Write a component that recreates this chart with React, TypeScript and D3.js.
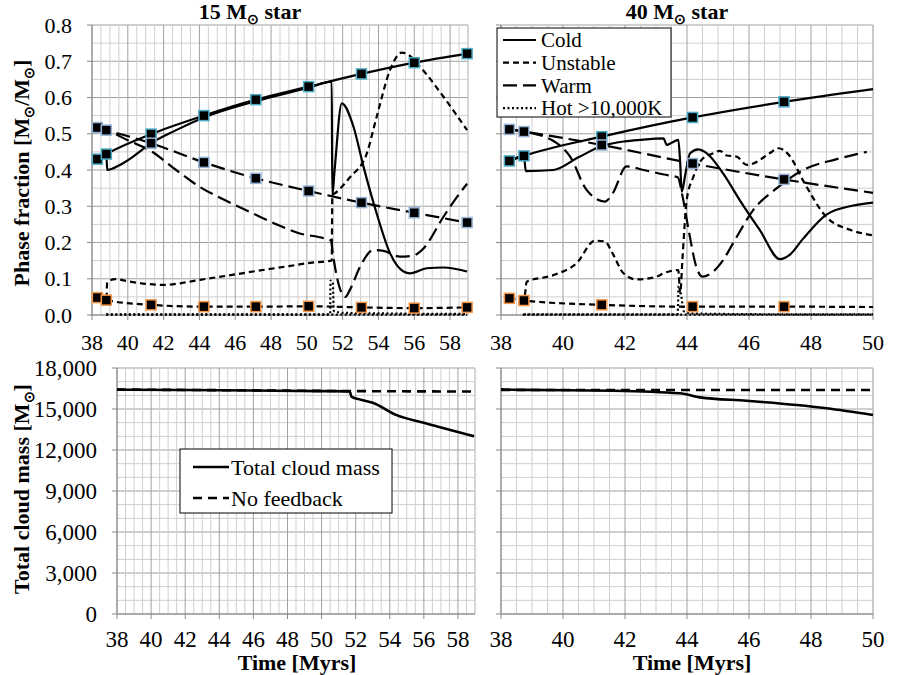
import React, { useEffect, useRef } from 'react';
import * as d3 from 'd3';

type Pt = [number, number];

// ---- axis ticks ----
const phaseTicks = [0, 0.1, 0.2, 0.3, 0.4, 0.5, 0.6, 0.7, 0.8];
const massTicks = [0, 3000, 6000, 9000, 12000, 15000, 18000];
const timeTicks15 = [38, 40, 42, 44, 46, 48, 50, 52, 54, 56, 58];
const timeTicks40 = [38, 40, 42, 44, 46, 48, 50];

// ---- 15 Msun, no feedback (marker series) ----
const markerTimes15 = [38.3, 38.8, 41.3, 44.25, 47.15, 50.1, 53.05, 56.0, 58.95];
const cold15NF = [0.43, 0.444, 0.499, 0.55, 0.594, 0.63, 0.665, 0.696, 0.721];
const warm15NF = [0.517, 0.51, 0.474, 0.421, 0.377, 0.342, 0.31, 0.282, 0.255];
const unstable15NF = [0.048, 0.041, 0.028, 0.023, 0.023, 0.024, 0.021, 0.019, 0.021];
const hot15NF: Pt[] = [[38.8, 0.001], [45, 0.001], [52, 0.001], [58.95, 0.001]];

// ---- 15 Msun, with feedback ----
const cold15FB: Pt[] = [
  [38.3, 0.43], [38.8, 0.444], [38.85, 0.4], [39.56, 0.414], [40.3, 0.437], [41.3, 0.474],
  [42.7, 0.51], [44.25, 0.545], [47.15, 0.59], [50.1, 0.627], [51.39, 0.644], [51.42, 0.33],
  [51.55, 0.4], [51.95, 0.584], [52.6, 0.52], [53.16, 0.41], [53.9, 0.28], [54.65, 0.17],
  [55.4, 0.12], [55.77, 0.115], [56.7, 0.129], [57.63, 0.131], [58.95, 0.12],
];
const warm15FB: Pt[] = [
  [38.3, 0.517], [38.8, 0.51], [40.0, 0.482], [41.3, 0.452], [42.7, 0.4], [44.0, 0.354],
  [45.5, 0.315], [47.0, 0.28], [48.3, 0.25], [49.6, 0.225], [50.92, 0.212], [51.35, 0.205],
  [51.45, 0.17], [51.7, 0.1], [51.95, 0.06], [52.15, 0.05], [52.41, 0.07], [52.97, 0.133],
  [53.71, 0.179], [54.27, 0.177], [55.2, 0.161], [55.95, 0.164], [56.5, 0.183], [57.63, 0.271],
  [58.74, 0.349], [58.95, 0.362],
];
const unstable15FB: Pt[] = [
  [38.3, 0.048], [38.8, 0.043], [38.85, 0.09], [39.3, 0.099], [40.0, 0.093], [41.0, 0.086],
  [42.0, 0.083], [43.0, 0.088], [44.03, 0.097], [45.5, 0.108], [47.0, 0.12], [49.0, 0.135],
  [50.18, 0.144], [51.39, 0.15], [51.42, 0.33], [51.58, 0.336], [52.41, 0.38], [53.35, 0.446],
  [53.9, 0.547], [54.65, 0.676], [55.3, 0.724], [55.6, 0.72], [56.32, 0.685], [57.63, 0.602],
  [58.95, 0.51],
];
const hot15FB: Pt[] = [
  [38.8, 0.002], [45.0, 0.002], [51.3, 0.002], [51.32, 0.095], [51.45, 0.09], [51.5, 0.012],
  [52.0, 0.006], [55.0, 0.004], [58.95, 0.003],
];

// ---- 40 Msun, no feedback (marker series; lines run on to 50) ----
const markerTimes40 = [38.27, 38.74, 41.25, 44.18, 47.13];
const lineTimes40 = [38.27, 38.74, 41.25, 44.18, 47.13, 50.0];
const cold40NF = [0.425, 0.439, 0.492, 0.545, 0.588, 0.623];
const warm40NF = [0.512, 0.506, 0.469, 0.418, 0.374, 0.337];
const unstable40NF = [0.046, 0.04, 0.028, 0.023, 0.023, 0.022];
const hot40NF: Pt[] = [[38.7, 0.001], [44, 0.001], [50, 0.001]];

// ---- 40 Msun, with feedback ----
const cold40FB: Pt[] = [
  [38.27, 0.425], [38.74, 0.439], [38.8, 0.397], [39.69, 0.4], [40.5, 0.435], [41.25, 0.466],
  [42.0, 0.479], [42.48, 0.483], [43.24, 0.487], [43.35, 0.469], [43.5, 0.475], [43.72, 0.483],
  [43.78, 0.42], [43.83, 0.34], [43.95, 0.39], [44.1, 0.446], [44.36, 0.457], [44.64, 0.446],
  [45.17, 0.39], [45.7, 0.317], [46.35, 0.234], [47.0, 0.154], [47.3, 0.165], [47.74, 0.21],
  [48.5, 0.277], [49.36, 0.302], [50.0, 0.31],
];
const warm40FB: Pt[] = [
  [38.27, 0.512], [38.74, 0.506], [39.8, 0.474], [40.23, 0.437], [40.76, 0.345], [41.35, 0.313],
  [41.6, 0.335], [42.05, 0.41], [42.6, 0.4], [43.4, 0.385], [43.7, 0.38], [43.85, 0.33],
  [44.07, 0.226], [44.3, 0.133], [44.5, 0.106], [44.85, 0.12], [45.17, 0.152], [45.5, 0.2],
  [46.14, 0.29], [46.9, 0.35], [47.75, 0.4], [48.83, 0.43], [49.8, 0.45],
];
const unstable40FB: Pt[] = [
  [38.27, 0.046], [38.74, 0.04], [38.83, 0.092], [39.69, 0.11], [40.44, 0.143], [41.03, 0.205],
  [41.35, 0.203], [41.6, 0.17], [41.95, 0.115], [42.38, 0.098], [43.0, 0.105], [43.24, 0.115],
  [43.72, 0.124], [43.78, 0.06], [43.85, 0.15], [43.99, 0.317], [44.2, 0.38], [44.47, 0.428],
  [44.85, 0.446], [45.06, 0.453], [45.28, 0.44], [45.6, 0.437], [45.93, 0.414], [46.14, 0.418],
  [46.68, 0.447], [46.95, 0.46], [47.3, 0.44], [47.75, 0.37], [48.5, 0.27], [49.26, 0.235],
  [50.0, 0.22],
];
const hot40FB: Pt[] = [
  [38.74, 0.002], [41.0, 0.002], [43.7, 0.002], [43.73, 0.08], [43.8, 0.06], [43.9, 0.01],
  [44.2, 0.004], [47.0, 0.002], [50.0, 0.002],
];

// ---- total cloud mass ----
const mass15: Pt[] = [
  [38.0, 16420], [38.6, 16410], [42.0, 16390], [46.0, 16350], [50.0, 16310], [51.65, 16290],
  [51.75, 15900], [52.3, 15680], [53.0, 15450], [54.4, 14550], [56.1, 13950], [58.95, 13000],
];
const noFeedback15: Pt[] = [[38.0, 16420], [45.0, 16370], [51.7, 16310], [58.95, 16280]];
const mass40: Pt[] = [
  [38.0, 16450], [38.7, 16400], [41.62, 16340], [43.77, 16150], [44.42, 15850], [45.93, 15600],
  [47.54, 15290], [48.5, 15050], [50.0, 14560],
];
const noFeedback40: Pt[] = [[38.0, 16390], [44.0, 16390], [50.0, 16390]];

const FONT = '"Liberation Serif", "Times New Roman", serif';
const DASH = { solid: null, unstable: '6,4', warm: '14,6', hot: '2,2.5', nofb: '9,6' };
const EDGE = { cold: '#4bacc6', warm: '#95b3d7', unstable: '#f79646' };

type Sel = d3.Selection<SVGGElement, unknown, null, undefined>;

interface PanelOpts {
  xr: [number, number];
  yr: [number, number];
  xd: [number, number];
  yd: [number, number];
  xTicks: number[];
  yTicks: number[];
  yMinor: number;
  yMajor: number;
  yLabels: boolean;
  yFmt: (v: number) => string;
  fontSize: number;
  xLabelY: number;
}

function drawPanel(g: Sel, o: PanelOpts) {
  const x = d3.scaleLinear().domain(o.xd).range(o.xr);
  const y = d3.scaleLinear().domain(o.yd).range(o.yr);

  // minor and major grid
  const xs = d3.range(o.xd[0], o.xd[1] + 1e-6, 0.5);
  const ys = d3.range(o.yd[0], o.yd[1] + 1e-6, o.yMinor);
  const isMajorX = (v: number) => Math.abs(v / 2 - Math.round(v / 2)) < 1e-6;
  const isMajorY = (v: number) => Math.abs(v / o.yMajor - Math.round(v / o.yMajor)) < 1e-6;

  g.selectAll('.gy').data(ys).join('line')
    .attr('x1', o.xr[0]).attr('x2', o.xr[1])
    .attr('y1', (d) => y(d)).attr('y2', (d) => y(d))
    .attr('stroke', (d) => (isMajorY(d) ? '#a0a0a0' : '#cfcfcf'))
    .attr('stroke-width', 1);
  g.selectAll('.gx').data(xs).join('line')
    .attr('x1', (d) => x(d)).attr('x2', (d) => x(d))
    .attr('y1', o.yr[0]).attr('y2', o.yr[1])
    .attr('stroke', (d) => (isMajorX(d) ? '#a0a0a0' : '#cfcfcf'))
    .attr('stroke-width', 1);
  // right border
  g.append('line').attr('x1', o.xr[1]).attr('x2', o.xr[1]).attr('y1', o.yr[0]).attr('y2', o.yr[1])
    .attr('stroke', '#c4c4c4');

  // axes
  g.append('line').attr('x1', o.xr[0]).attr('x2', o.xr[1]).attr('y1', o.yr[0]).attr('y2', o.yr[0])
    .attr('stroke', '#888');
  g.append('line').attr('x1', o.xr[0]).attr('x2', o.xr[0]).attr('y1', o.yr[0]).attr('y2', o.yr[1])
    .attr('stroke', '#888');
  g.selectAll('.tx').data(o.xTicks).join('line')
    .attr('x1', (d) => x(d)).attr('x2', (d) => x(d))
    .attr('y1', o.yr[0]).attr('y2', o.yr[0] + 5).attr('stroke', '#888');
  g.selectAll('.ty').data(o.yTicks).join('line')
    .attr('x1', o.xr[0] - 5).attr('x2', o.xr[0])
    .attr('y1', (d) => y(d)).attr('y2', (d) => y(d)).attr('stroke', '#888');

  g.selectAll('.lx').data(o.xTicks).join('text')
    .attr('x', (d) => x(d)).attr('y', o.xLabelY)
    .attr('text-anchor', 'middle')
    .attr('font-family', FONT).attr('font-size', o.fontSize)
    .text((d) => String(d));
  if (o.yLabels) {
    g.selectAll('.ly').data(o.yTicks).join('text')
      .attr('x', o.xr[0] - 20).attr('y', (d) => y(d)).attr('dy', '0.35em')
      .attr('text-anchor', 'end')
      .attr('font-family', FONT).attr('font-size', o.fontSize)
      .text((d) => o.yFmt(d));
  }
  return { x, y };
}

function drawLine(g: Sel, x: any, y: any, pts: Pt[], dash: string | null, width = 2.2) {
  const line = d3.line<Pt>().x((d) => x(d[0])).y((d) => y(d[1])).curve(d3.curveMonotoneX);
  g.append('path').datum(pts)
    .attr('fill', 'none').attr('stroke', '#000').attr('stroke-width', width)
    .attr('stroke-dasharray', dash)
    .attr('d', line);
}

function drawMarkers(g: Sel, x: any, y: any, pts: Pt[], edge: string) {
  g.selectAll(null).data(pts).join('rect')
    .attr('x', (d) => x(d[0]) - 5).attr('y', (d) => y(d[1]) - 5)
    .attr('width', 10).attr('height', 10)
    .attr('fill', '#000').attr('stroke', edge).attr('stroke-width', 1.5);
}

const zip = (t: number[], v: number[]): Pt[] => t.map((d, i) => [d, v[i]]);

function subText(g: Sel, parts: [string, boolean][], attrs: Record<string, any>) {
  const t = g.append('text');
  Object.entries(attrs).forEach(([k, v]) => t.attr(k, v));
  let sub = false;
  parts.forEach(([s, isSub]) => {
    const ts = t.append('tspan').text(s);
    if (isSub && !sub) ts.attr('dy', 5).attr('font-size', '0.65em');
    if (!isSub && sub) ts.attr('dy', -5);
    sub = isSub;
  });
  return t;
}

const App: React.FC = () => {
  const svgRef = useRef<SVGSVGElement>(null);

  useEffect(() => {
    if (!svgRef.current) return;
    const svg = d3.select(svgRef.current);
    svg.selectAll('*').remove();
    const root = svg.append('g') as unknown as Sel;

    const phaseFmt = d3.format('.1f');
    const massFmt = d3.format(',');

    // ---- top-left: 15 Msun ----
    const gTL = root.append('g');
    const tl = drawPanel(gTL, {
      xr: [92, 468], yr: [315, 25], xd: [38, 59], yd: [0, 0.8],
      xTicks: timeTicks15, yTicks: phaseTicks, yMinor: 0.05, yMajor: 0.1,
      yLabels: true, yFmt: phaseFmt, fontSize: 22, xLabelY: 350,
    });
    drawLine(gTL, tl.x, tl.y, hot15NF, DASH.hot);
    drawLine(gTL, tl.x, tl.y, hot15FB, DASH.hot);
    drawLine(gTL, tl.x, tl.y, warm15FB, DASH.warm);
    drawLine(gTL, tl.x, tl.y, unstable15FB, DASH.unstable);
    drawLine(gTL, tl.x, tl.y, cold15FB, null);
    drawLine(gTL, tl.x, tl.y, zip(markerTimes15, cold15NF), null);
    drawLine(gTL, tl.x, tl.y, zip(markerTimes15, warm15NF), DASH.warm);
    drawLine(gTL, tl.x, tl.y, zip(markerTimes15, unstable15NF), DASH.unstable);
    drawMarkers(gTL, tl.x, tl.y, zip(markerTimes15, cold15NF), EDGE.cold);
    drawMarkers(gTL, tl.x, tl.y, zip(markerTimes15, warm15NF), EDGE.warm);
    drawMarkers(gTL, tl.x, tl.y, zip(markerTimes15, unstable15NF), EDGE.unstable);

    // ---- top-right: 40 Msun ----
    const gTR = root.append('g');
    const tr = drawPanel(gTR, {
      xr: [501, 873], yr: [315, 25], xd: [38, 50], yd: [0, 0.8],
      xTicks: timeTicks40, yTicks: phaseTicks, yMinor: 0.05, yMajor: 0.1,
      yLabels: false, yFmt: phaseFmt, fontSize: 22, xLabelY: 350,
    });
    drawLine(gTR, tr.x, tr.y, hot40NF, DASH.hot);
    drawLine(gTR, tr.x, tr.y, hot40FB, DASH.hot);
    drawLine(gTR, tr.x, tr.y, warm40FB, DASH.warm);
    drawLine(gTR, tr.x, tr.y, unstable40FB, DASH.unstable);
    drawLine(gTR, tr.x, tr.y, cold40FB, null);
    drawLine(gTR, tr.x, tr.y, zip(lineTimes40, cold40NF), null);
    drawLine(gTR, tr.x, tr.y, zip(lineTimes40, warm40NF), DASH.warm);
    drawLine(gTR, tr.x, tr.y, zip(lineTimes40, unstable40NF), DASH.unstable);
    drawMarkers(gTR, tr.x, tr.y, zip(markerTimes40, cold40NF), EDGE.cold);
    drawMarkers(gTR, tr.x, tr.y, zip(markerTimes40, warm40NF), EDGE.warm);
    drawMarkers(gTR, tr.x, tr.y, zip(markerTimes40, unstable40NF), EDGE.unstable);

    // phase legend
    const legItems: [string, string | null][] = [
      ['Cold', DASH.solid], ['Unstable', DASH.unstable], ['Warm', DASH.warm], ['Hot >10,000K', DASH.hot],
    ];
    const gL = root.append('g');
    gL.append('rect').attr('x', 497).attr('y', 28).attr('width', 174).attr('height', 89)
      .attr('fill', '#fff').attr('stroke', '#000').attr('stroke-width', 1);
    legItems.forEach(([label, dash], i) => {
      const cy = 40 + i * 22.7;
      gL.append('line').attr('x1', 503).attr('x2', 536).attr('y1', cy).attr('y2', cy)
        .attr('stroke', '#000').attr('stroke-width', 2.2).attr('stroke-dasharray', dash);
      gL.append('text').attr('x', 541).attr('y', cy).attr('dy', '0.35em')
        .attr('font-family', FONT).attr('font-size', 21).text(label);
    });

    // ---- bottom-left: 15 Msun mass ----
    const gBL = root.append('g');
    const bl = drawPanel(gBL, {
      xr: [117, 475], yr: [614, 368], xd: [38, 59], yd: [0, 18000],
      xTicks: timeTicks15, yTicks: massTicks, yMinor: 1000, yMajor: 3000,
      yLabels: true, yFmt: massFmt, fontSize: 23, xLabelY: 647,
    });
    drawLine(gBL, bl.x, bl.y, noFeedback15, DASH.nofb, 2.6);
    drawLine(gBL, bl.x, bl.y, mass15, null, 2.6);

    const gML = root.append('g');
    gML.append('rect').attr('x', 180).attr('y', 449).attr('width', 212).attr('height', 64)
      .attr('fill', '#fff').attr('stroke', '#000').attr('stroke-width', 1);
    ([['Total cloud mass', null], ['No feedback', DASH.nofb]] as [string, string | null][]).forEach(
      ([label, dash], i) => {
        const cy = 467 + i * 31;
        gML.append('line').attr('x1', 193).attr('x2', 229).attr('y1', cy).attr('y2', cy)
          .attr('stroke', '#000').attr('stroke-width', 2.6).attr('stroke-dasharray', dash);
        gML.append('text').attr('x', 231).attr('y', cy).attr('dy', '0.35em')
          .attr('font-family', FONT).attr('font-size', 22).text(label);
      },
    );

    // ---- bottom-right: 40 Msun mass ----
    const gBR = root.append('g');
    const br = drawPanel(gBR, {
      xr: [501, 873], yr: [614, 368], xd: [38, 50], yd: [0, 18000],
      xTicks: timeTicks40, yTicks: massTicks, yMinor: 1000, yMajor: 3000,
      yLabels: false, yFmt: massFmt, fontSize: 23, xLabelY: 647,
    });
    drawLine(gBR, br.x, br.y, noFeedback40, DASH.nofb, 2.6);
    drawLine(gBR, br.x, br.y, mass40, null, 2.6);

    // ---- titles ----
    const bold = { 'font-family': FONT, 'font-weight': 'bold', 'font-size': 22, 'text-anchor': 'middle' };
    subText(root, [['15 M', false], ['\u2299', true], [' star', false]], { ...bold, x: 250, y: 19 });
    subText(root, [['40 M', false], ['\u2299', true], [' star', false]], { ...bold, x: 677, y: 19 });
    const axBold = { 'font-family': FONT, 'font-weight': 'bold', 'font-size': 22, 'text-anchor': 'middle' };
    subText(
      root,
      [['Phase fraction [M', false], ['\u2299', true], ['/M', false], ['\u2299', true], [']', false]],
      { ...axBold, transform: 'translate(29,173) rotate(-90)' },
    );
    subText(
      root,
      [['Total cloud mass [M', false], ['\u2299', true], [']', false]],
      { ...axBold, transform: 'translate(29,489) rotate(-90)' },
    );
    root.append('text').attr('x', 297).attr('y', 670).attr('text-anchor', 'middle')
      .attr('font-family', FONT).attr('font-weight', 'bold').attr('font-size', 22).text('Time [Myrs]');
    root.append('text').attr('x', 692).attr('y', 670).attr('text-anchor', 'middle')
      .attr('font-family', FONT).attr('font-weight', 'bold').attr('font-size', 22).text('Time [Myrs]');
  }, []);

  return (
    <svg
      ref={svgRef}
      width={900}
      height={675}
      viewBox="0 0 900 675"
      style={{ position: 'absolute', left: 0, top: 0, background: '#fff' }}
    />
  );
};

export default App;
